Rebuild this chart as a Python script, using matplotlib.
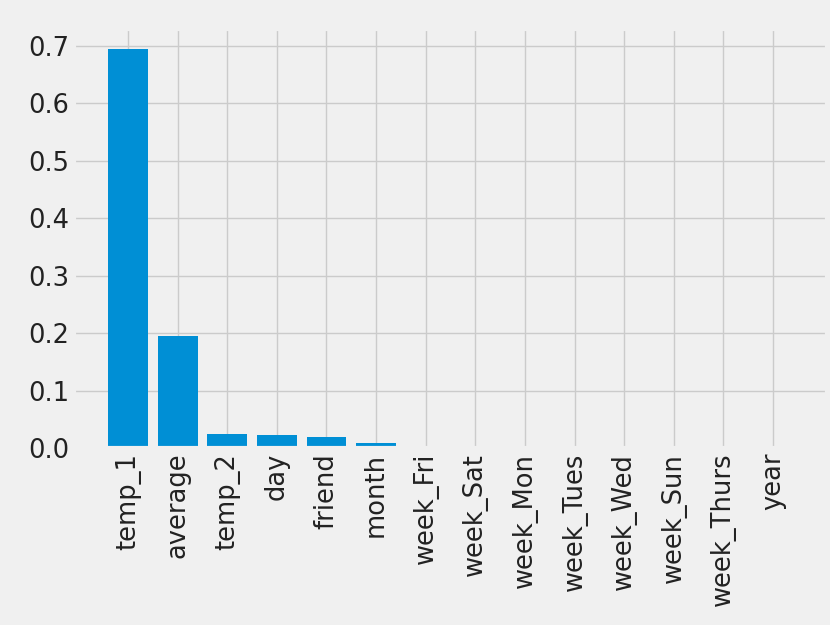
import matplotlib
matplotlib.use('Agg')
from matplotlib import pyplot as plt

features = ['temp_1', 'average', 'temp_2', 'day', 'friend', 'month', 'week_Fri',
            'week_Sat', 'week_Mon', 'week_Tues', 'week_Wed', 'week_Sun', 'week_Thurs', 'year']
importances = [0.695, 0.195, 0.025, 0.023, 0.020, 0.008, 0.0, 0.0, 0.0, 0.0, 0.0, 0.0, 0.0, 0.0]

plt.style.use('fivethirtyeight')

fig, ax = plt.subplots(figsize=(8.3, 6.25), dpi=100)
x_values = list(range(len(importances)))
ax.bar(x_values, importances, orientation='vertical')
ax.set_xticks(x_values)
ax.set_xticklabels(features, rotation='vertical')
ax.tick_params(labelsize=18.5, colors='#222222')

# axes box placed to match the reference
fig.subplots_adjust(left=74/830, right=827/830, top=1 - 29/625, bottom=1 - 448/625)
fig.savefig('out.png')
